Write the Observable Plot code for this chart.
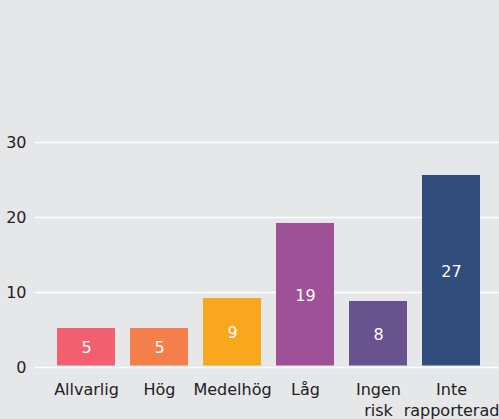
<!DOCTYPE html>
<html>
<head>
<meta charset="utf-8">
<script src="https://cdn.jsdelivr.net/npm/d3@7"></script>
<script src="https://cdn.jsdelivr.net/npm/@observablehq/plot@0.6"></script>
<style>
  html, body { margin: 0; padding: 0; background: #e6e7e9; }
  #chart { width: 499px; height: 419px; }
</style>
</head>
<body>
<div id="chart"></div>
<script>
const categories = ["Allvarlig", "Hög", "Medelhög", "Låg", "Ingen\nrisk", "Inte\nrapporterad"];
const barValues = [5.2, 5.2, 9.2, 19.2, 8.8, 25.6];
const valueLabels = ["5", "5", "9", "19", "8", "27"];
const barColors = ["#f25f6e", "#f47f4a", "#f9a71c", "#9e5196", "#69538f", "#314d7c"];
const yTicks = [0, 10, 20, 30];

const data = categories.map((c, i) => ({ cat: c, value: barValues[i], label: valueLabels[i] }));

const chart = Plot.plot({
  width: 499,
  height: 419,
  marginTop: 142,
  marginBottom: 52,
  marginLeft: 35,
  marginRight: 1,
  style: { fontFamily: "DejaVu Sans", fontSize: "16px", background: "#e6e7e9", color: "#222" },
  x: { type: "band", domain: categories, paddingInner: 0.212, paddingOuter: 0.2, insetLeft: 5.3, insetRight: 2.3, label: null },
  y: { domain: [0, 30], label: null },
  color: { domain: categories, range: barColors },
  marks: [
    Plot.ruleY(yTicks, { stroke: "#ffffff", strokeWidth: 1.5 }),
    Plot.barY(data, { x: "cat", y: "value", fill: "cat", insetBottom: 1.5 }),
    Plot.text(data, { x: "cat", y: d => d.value / 2, text: "label", fill: "#ffffff", fontSize: 16 }),
    Plot.axisY({ ticks: yTicks, tickSize: 0, tickPadding: 9, fontSize: 16, label: null, fill: "#222" }),
    Plot.axisX({ tickSize: 0, tickPadding: 13, fontSize: 16, lineHeight: 1.3, label: null, fill: "#222" })
  ]
});
document.getElementById("chart").appendChild(chart);
</script>
</body>
</html>
